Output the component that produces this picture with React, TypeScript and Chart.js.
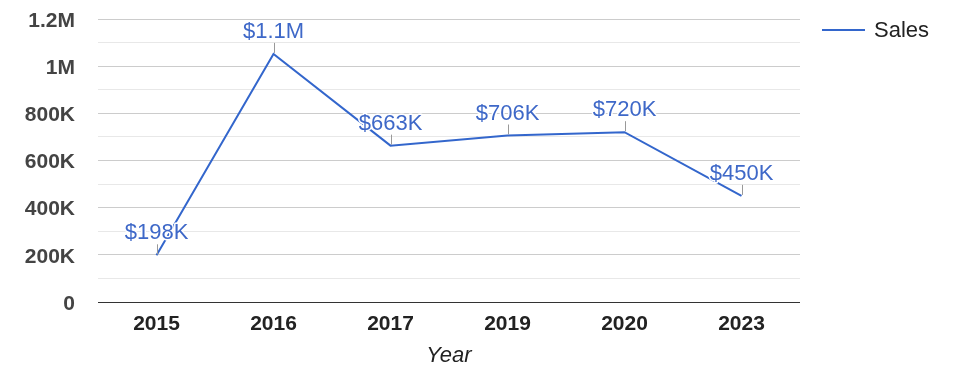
import React, { useEffect, useRef } from "react";
import { Chart, registerables } from "chart.js";

Chart.register(...registerables);

const years = ["2015", "2016", "2017", "2019", "2020", "2023"];
const sales = [198000, 1052000, 663000, 706000, 720000, 450000];
const seriesName = "Sales";
const axisTitle = "Year";
const yMax = 1200000;
const yStep = 100000;

const FONT = "'Liberation Sans', Arial, sans-serif";
const LINE = "#3366cc";
const LABEL = "#3e68c8";

function fmtTick(v: number): string {
  if (v === 0) return "0";
  if (v >= 1000000) return `${Math.round(v / 100000) / 10}M`;
  return `${Math.round(v / 1000)}K`;
}
function fmtLabel(v: number): string {
  if (v >= 1000000) return `$${Math.round(v / 100000) / 10}M`;
  return `$${Math.round(v / 1000)}K`;
}

const overlay = {
  id: "overlay",
  afterDatasetsDraw(chart: any) {
    const ctx = chart.ctx;
    const meta = chart.getDatasetMeta(0);
    ctx.save();
    meta.data.forEach((pt: any, i: number) => {
      const x = pt.x;
      const y = pt.y;
      ctx.strokeStyle = "#999";
      ctx.lineWidth = 1;
      ctx.beginPath();
      ctx.moveTo(Math.round(x) + 0.5, y - 1);
      ctx.lineTo(Math.round(x) + 0.5, y - 11);
      ctx.stroke();
      ctx.font = `22px ${FONT}`;
      ctx.textAlign = "center";
      ctx.textBaseline = "middle";
      const text = fmtLabel(sales[i]);
      ctx.lineWidth = 3;
      ctx.strokeStyle = "#fff";
      ctx.lineJoin = "round";
      ctx.strokeText(text, x, y - 22);
      ctx.fillStyle = LABEL;
      ctx.fillText(text, x, y - 22);
    });
    // legend
    ctx.strokeStyle = LINE;
    ctx.lineWidth = 2;
    ctx.beginPath();
    ctx.moveTo(822, 30);
    ctx.lineTo(865, 30);
    ctx.stroke();
    ctx.fillStyle = "#222";
    ctx.font = `22px ${FONT}`;
    ctx.textAlign = "left";
    ctx.textBaseline = "middle";
    ctx.fillText(seriesName, 874, 31);
    ctx.restore();
  },
};

export default function App() {
  const ref = useRef<HTMLCanvasElement>(null);
  useEffect(() => {
    document.body.style.margin = "0";
    const chart = new Chart(ref.current!, {
      type: "line",
      data: {
        labels: years,
        datasets: [
          {
            label: seriesName,
            data: sales,
            borderColor: LINE,
            borderWidth: 2,
            pointRadius: 0,
            tension: 0,
            fill: false,
          },
        ],
      },
      options: {
        animation: false,
        responsive: false,
        layout: { padding: { top: 19, right: 175, left: 0, bottom: 0 } },
        plugins: { legend: { display: false }, tooltip: { enabled: false } },
        scales: {
          x: {
            offset: true,
            grid: { display: false, drawTicks: false },
            border: { display: false },
            ticks: {
              color: "#222",
              font: { family: FONT, size: 21, weight: "bold" },
              padding: 10,
              maxRotation: 0,
              autoSkip: false,
            },
            title: {
              display: true,
              text: axisTitle,
              color: "#222",
              font: { family: FONT, size: 22, style: "italic" },
              padding: { top: 0, bottom: 9 },
            },
            afterFit: (s: any) => {
              s.height = 76;
            },
          },
          y: {
            min: 0,
            max: yMax,
            border: { display: false },
            grid: {
              drawTicks: false,
              color: (c: any) => {
                const v = c.tick?.value ?? 0;
                if (v === 0) return "#333";
                return v % 200000 === 0 ? "#cccccc" : "#e8e8e8";
              },
              lineWidth: 1,
            },
            ticks: {
              stepSize: yStep,
              autoSkip: false,
              color: "#444",
              font: { family: FONT, size: 21, weight: "bold" },
              padding: 23,
              labelOffset: 2,
              callback: (v: any) => (Number(v) % 200000 === 0 ? fmtTick(Number(v)) : ""),
            },
            afterFit: (s: any) => {
              s.width = 98;
              s.paddingTop = 0;
              s.paddingBottom = 0;
            },
          },
        },
      },
      plugins: [overlay],
    });
    return () => chart.destroy();
  }, []);
  return (
    <div style={{ position: "fixed", left: 0, top: 0, width: 975, height: 378, background: "#fff" }}>
      <canvas ref={ref} width={975} height={378} />
    </div>
  );
}
